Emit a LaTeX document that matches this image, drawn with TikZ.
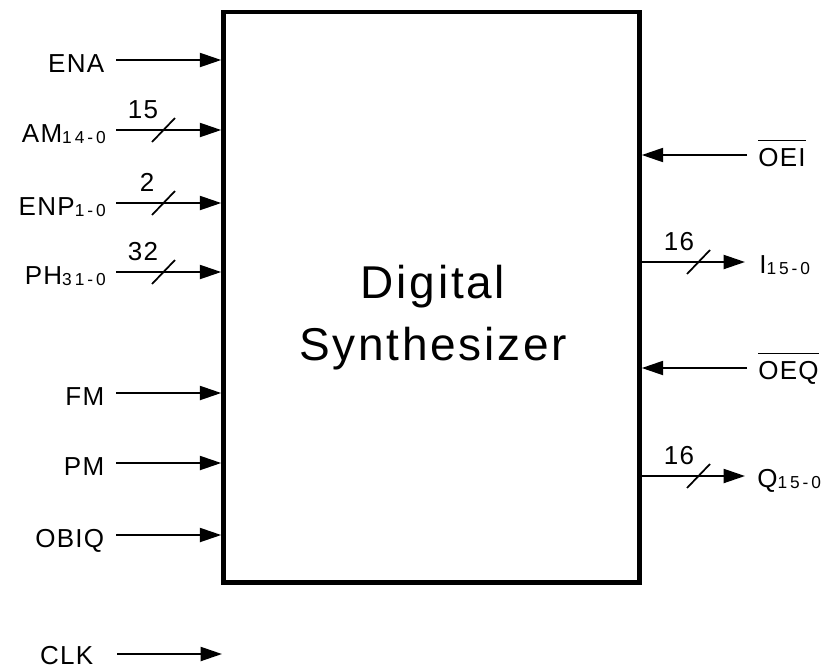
\documentclass[tikz,border=0pt]{standalone}
\usepackage{fontspec}
\setmainfont{Liberation Sans}
\newfontfamily\lblfont[LetterSpace=5]{Liberation Sans}
\newfontfamily\subfont[LetterSpace=17]{Liberation Sans}
\newfontfamily\ttlfont[LetterSpace=6]{Liberation Sans}
\usetikzlibrary{arrows.meta}
\newcommand{\sigsub}[1]{{\subfont\fontsize{13}{15}\selectfont\raisebox{-1pt}{#1}}}
\newcommand{\sigbar}[1]{\vbox{\hrule height 1pt \kern 5pt \hbox{#1}}}
\begin{document}
\begin{tikzpicture}[x=0.75pt,y=-0.75pt,
  sig/.style={line width=1.5pt,-{Triangle[length=16pt,width=10.5pt]}},
  slash/.style={line width=1.3pt},
  lbl/.style={inner sep=0pt,font=\lblfont\fontsize{19.5}{22}\selectfont},
  ttl/.style={inner sep=0pt,font=\ttlfont\fontsize{34.5}{40}\selectfont},
  chip/.style={draw,line width=3.4pt,inner sep=0pt,minimum width=312pt,minimum height=427.875pt}]
\useasboundingbox (0,0) rectangle (827,668);
\fill[white] (0,0) rectangle (827,668);
% block
\node[chip] (dut) at (431.5,297.25) {};
\node[ttl,anchor=base] (t1) at (433,298) {Digital};
\node[ttl,anchor=base] (t2) at (433,360) {Synthesizer};
% left inputs
\node[lbl,anchor=base east] (lENA) at (104.5,72) {ENA};
\coordinate (sENA) at (116,60);
\draw[sig] (sENA) -- (sENA -| dut.west);
\node[lbl,anchor=base east] (lAM) at (106,142) {AM\sigsub{14-0}};
\coordinate (sAM) at (116,130);
\draw[sig] (sAM) -- (sAM -| dut.west);
\coordinate (bAM) at (163.5,130);
\draw[slash] ([shift={(-11.5,12)}]bAM) -- ([shift={(11.5,-12)}]bAM);
\node[lbl,anchor=base] (nAM) at (143,118) {15};
\node[lbl,anchor=base east] (lENP) at (106,215) {ENP\sigsub{1-0}};
\coordinate (sENP) at (116,203);
\draw[sig] (sENP) -- (sENP -| dut.west);
\coordinate (bENP) at (163.5,203);
\draw[slash] ([shift={(-11.5,12)}]bENP) -- ([shift={(11.5,-12)}]bENP);
\node[lbl,anchor=base] (nENP) at (147,191) {2};
\node[lbl,anchor=base east] (lPH) at (106,284) {PH\sigsub{31-0}};
\coordinate (sPH) at (116,272);
\draw[sig] (sPH) -- (sPH -| dut.west);
\coordinate (bPH) at (163.5,272);
\draw[slash] ([shift={(-11.5,12)}]bPH) -- ([shift={(11.5,-12)}]bPH);
\node[lbl,anchor=base] (nPH) at (143,260) {32};
\node[lbl,anchor=base east] (lFM) at (104.5,405) {FM};
\coordinate (sFM) at (116,393);
\draw[sig] (sFM) -- (sFM -| dut.west);
\node[lbl,anchor=base east] (lPM) at (104.5,475) {PM};
\coordinate (sPM) at (116,463);
\draw[sig] (sPM) -- (sPM -| dut.west);
\node[lbl,anchor=base east] (lOBIQ) at (104.5,547) {OBIQ};
\coordinate (sOBIQ) at (116,535);
\draw[sig] (sOBIQ) -- (sOBIQ -| dut.west);
\node[lbl,anchor=base east] (lCLK) at (93.5,664) {CLK};
\coordinate (sCLK) at (117,654);
\coordinate (eCLK) at (222,654);
\draw[sig] (sCLK) -- (eCLK);
% right side
\node[lbl,anchor=base west] (lOEI) at (758,166) {\sigbar{OEI}};
\coordinate (sOEI) at (747,155);
\draw[sig] (sOEI) -- (sOEI -| dut.east);
\node[lbl,anchor=base west] (lI) at (759,273) {I\sigsub{15-0}};
\coordinate (eI) at (745,262);
\draw[sig] (dut.east |- eI) -- (eI);
\coordinate (bI) at (698.5,262);
\draw[slash] ([shift={(-11.5,12)}]bI) -- ([shift={(11.5,-12)}]bI);
\node[lbl,anchor=base] (nI) at (679,250) {16};
\node[lbl,anchor=base west] (lOEQ) at (758,379) {\sigbar{OEQ}};
\coordinate (sOEQ) at (747,368);
\draw[sig] (sOEQ) -- (sOEQ -| dut.east);
\node[lbl,anchor=base west] (lQ) at (757,487) {Q\sigsub{15-0}};
\coordinate (eQ) at (745,476);
\draw[sig] (dut.east |- eQ) -- (eQ);
\coordinate (bQ) at (698.5,476);
\draw[slash] ([shift={(-11.5,12)}]bQ) -- ([shift={(11.5,-12)}]bQ);
\node[lbl,anchor=base] (nQ) at (679,464) {16};
\end{tikzpicture}
\end{document}
